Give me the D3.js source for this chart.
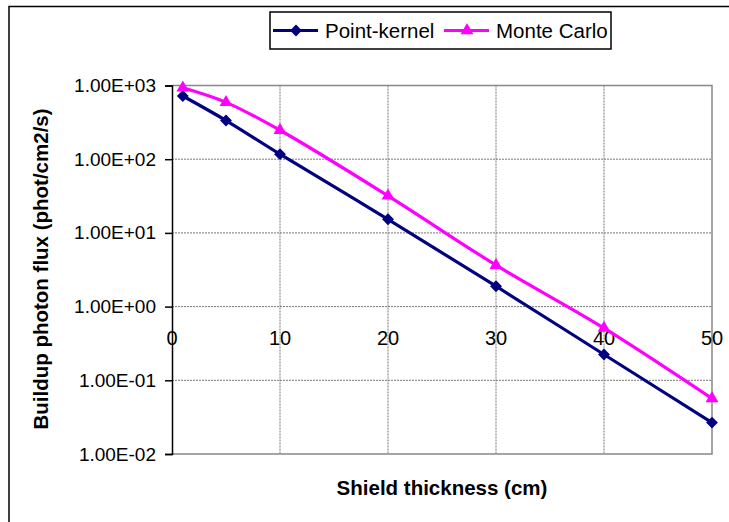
<!DOCTYPE html>
<html>
<head>
<meta charset="utf-8">
<script src="https://cdn.jsdelivr.net/npm/d3@7"></script>
<style>
  html, body { margin: 0; padding: 0; background: #fff; }
  svg { display: block; font-family: Arial, "Liberation Sans", sans-serif; }
</style>
</head>
<body>
<svg width="729" height="522"></svg>
<script>
// shield thickness (cm)
const thickness = [1, 5, 10, 20, 30, 40, 50];
// buildup photon flux (phot/cm2/s)
const pointKernel = [720, 335, 117, 15.3, 1.89, 0.224, 0.0267];
const monteCarlo = [930, 590, 247, 31.8, 3.65, 0.51, 0.0566];

const xTicks = [0, 10, 20, 30, 40, 50];
const yTicks = [1e-2, 1e-1, 1e0, 1e1, 1e2, 1e3];
const yTickLabels = ['1.00E-02', '1.00E-01', '1.00E+00', '1.00E+01', '1.00E+02', '1.00E+03'];

const series = [
  {name: 'Point-kernel', values: pointKernel, color: '#000080', marker: 'diamond'},
  {name: 'Monte Carlo', values: monteCarlo, color: '#FF00FF', marker: 'triangle'}
];

const plotLeft = 172, plotRight = 712, plotTop = 85.5, plotBottom = 454;
const fontFamily = 'Arial, "Liberation Sans", sans-serif';

const svg = d3.select('svg');

// outer chart frame (runs past the picture on right and bottom)
svg.append('rect')
  .attr('x', 9).attr('y', 6.5)
  .attr('width', 800).attr('height', 600)
  .attr('fill', 'none').attr('stroke', '#000').attr('stroke-width', 1.5);

const x = d3.scaleLinear().domain([0, 50]).range([plotLeft, plotRight]);
const y = d3.scaleLog().domain([1e-2, 1e3]).range([plotBottom, plotTop]);

// grid
svg.append('g')
  .selectAll('line')
  .data(yTicks.slice(1, -1))
  .join('line')
  .attr('x1', plotLeft).attr('x2', plotRight)
  .attr('y1', d => y(d)).attr('y2', d => y(d))
  .attr('stroke', '#777').attr('stroke-width', 1).attr('stroke-dasharray', '2,1');

svg.append('g')
  .selectAll('line')
  .data(xTicks.slice(1, -1))
  .join('line')
  .attr('x1', d => x(d)).attr('x2', d => x(d))
  .attr('y1', plotTop).attr('y2', plotBottom)
  .attr('stroke', '#777').attr('stroke-width', 1).attr('stroke-dasharray', '2,1');

// plot area border (grey)
svg.append('path')
  .attr('d', `M${plotLeft},${plotTop}H${plotRight}V${plotBottom}H${plotLeft}`)
  .attr('fill', 'none').attr('stroke', '#888').attr('stroke-width', 1.5);

// y axis
const yAxis = svg.append('g')
  .attr('transform', `translate(${plotLeft},0)`)
  .call(d3.axisLeft(y).tickValues(yTicks).tickSize(7).tickPadding(9)
    .tickFormat((d, i) => yTickLabels[i]))
  .attr('font-size', null).attr('font-family', null);
yAxis.select('.domain').attr('stroke', '#000').attr('stroke-width', 1.5);
yAxis.selectAll('.tick line').attr('stroke', '#000').attr('stroke-width', 1.5);
yAxis.selectAll('.tick text')
  .style('font-size', '19px').style('font-family', fontFamily)
  .attr('fill', '#000');

// x labels sit below the 1.00E+00 line (Excel crosses there)
svg.append('g')
  .selectAll('text')
  .data(xTicks)
  .join('text')
  .attr('x', d => x(d))
  .attr('y', 345)
  .attr('text-anchor', 'middle')
  .style('font-size', '20px')
  .text(d => d);

// lines
const line = d3.line()
  .x((d, i) => x(thickness[i]))
  .y(d => y(d))
  .curve(d3.curveCatmullRom);

const symbolFor = m => m === 'diamond'
  ? d3.symbol().type(d3.symbolSquare).size(70)()
  : d3.symbol().type(d3.symbolTriangle).size(72)();
const rotFor = m => m === 'diamond' ? ' rotate(45)' : '';

series.forEach(s => {
  svg.append('path')
    .datum(s.values)
    .attr('d', line)
    .attr('fill', 'none')
    .attr('stroke', s.color)
    .attr('stroke-width', 3.2)
    .attr('stroke-linejoin', 'round');

  svg.append('g')
    .selectAll('path')
    .data(s.values)
    .join('path')
    .attr('d', symbolFor(s.marker))
    .attr('transform', (d, i) => `translate(${x(thickness[i])},${y(d)})${rotFor(s.marker)}`)
    .attr('fill', s.color);
});

// axis titles
svg.append('text')
  .attr('transform', 'translate(48,269) rotate(-90)')
  .attr('text-anchor', 'middle')
  .style('font-size', '20.5px').attr('font-weight', 'bold')
  .text('Buildup photon flux (phot/cm2/s)');

svg.append('text')
  .attr('x', 442).attr('y', 495)
  .attr('text-anchor', 'middle')
  .style('font-size', '20.5px').attr('font-weight', 'bold')
  .text('Shield thickness (cm)');

// legend
const legend = svg.append('g');
legend.append('rect')
  .attr('x', 270).attr('y', 12)
  .attr('width', 341).attr('height', 37)
  .attr('fill', '#fff').attr('stroke', '#000').attr('stroke-width', 1.5);

const legendX = [273, 444];
series.forEach((s, i) => {
  const g = legend.append('g').attr('transform', `translate(${legendX[i]},30.5)`);
  g.append('line')
    .attr('x1', 0).attr('x2', 45)
    .attr('stroke', s.color).attr('stroke-width', 3.2);
  g.append('path')
    .attr('d', symbolFor(s.marker))
    .attr('transform', `translate(23,0)${rotFor(s.marker)}`)
    .attr('fill', s.color);
  g.append('text')
    .attr('x', 52).attr('y', 7)
    .style('font-size', '20.5px')
    .text(s.name);
});
</script>
</body>
</html>
